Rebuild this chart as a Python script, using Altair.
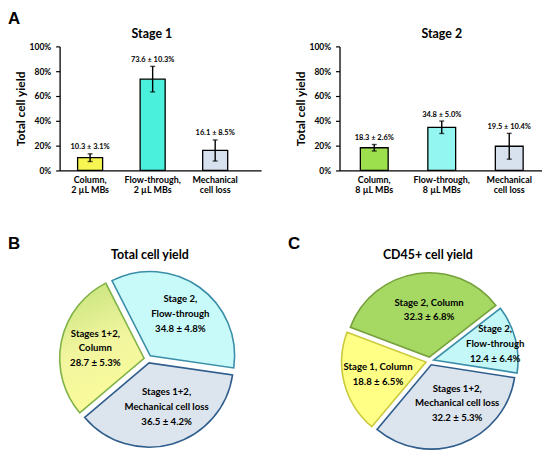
import math
import altair as alt
import pandas as pd

FONT = "Lato, sans-serif"
LETTER_FONT = "Liberation Sans, Arial, sans-serif"

# ---------------- data ----------------
stage1_labels = ["Column,|2 µL MBs", "Flow-through,|2 µL MBs", "Mechanical|cell loss"]
stage1_values = [10.3, 73.6, 16.1]
stage1_errors = [3.1, 10.3, 8.5]
stage1_colors = ["#f6f552", "#4af0dc", "#d8e2ef"]

stage2_labels = ["Column,|8 µL MBs", "Flow-through,|8 µL MBs", "Mechanical|cell loss"]
stage2_values = [18.3, 34.8, 19.5]
stage2_errors = [2.6, 5.0, 10.4]
stage2_colors = ["#9ce04e", "#93f6f0", "#d8e2ef"]

pieB_labels = ["Stage 2,\nFlow-through", "Stages 1+2,\nMechanical cell loss", "Stages 1+2,\nColumn"]
pieB_values = [34.8, 36.5, 28.7]
pieB_errors = [4.8, 4.2, 5.3]

pieC_labels = ["Stage 2, Column", "Stage 2,\nFlow-through", "Stages 1+2,\nMechanical cell loss", "Stage 1, Column"]
pieC_values = [32.3, 12.4, 32.2, 18.8]
pieC_errors = [6.8, 6.4, 5.3, 6.5]

# ---------------- styles ----------------
GRAD_YG = {"gradient": "linear", "x1": 0, "y1": 0, "x2": 0.25, "y2": 1,
           "stops": [{"offset": 0, "color": "#c3e27a"}, {"offset": 0.55, "color": "#f1f59e"},
                     {"offset": 1, "color": "#fbfb9c"}]}
pieB_fills = ["#c9fafa", "#dce4ee", GRAD_YG]
pieB_strokes = ["#3a8ea8", "#2f5d8c", "#7fb347"]
pieC_fills = ["#a6d864", "#c4f8f8", "#dce4ee", "#ffff86"]
pieC_strokes = ["#76a13c", "#3a8ea8", "#2f5d8c", "#c9c93a"]

PIE_R = 85
EXPLODE = 4
PIE_LINE_H = 15


def label_layer(text, x, y, size, font=FONT, align="center", baseline="alphabetic"):
    return alt.Chart(pd.DataFrame({"t": [text]})).mark_text(
        font=font, fontWeight="bold", fontSize=size, align=align, baseline=baseline,
        color="black").encode(text="t:N", x=alt.value(x), y=alt.value(y))


def bar_chart(labels, values, errors, colors, title, title_x, width, p_in, p_out, align, letter=None):
    df = pd.DataFrame({"cat": labels, "value": values, "err": errors})
    df["txt"] = [f"{v} ± {e}%" for v, e in zip(values, errors)]
    xsc = alt.Scale(paddingInner=p_in, paddingOuter=p_out, align=align)
    xax = alt.Axis(labelExpr="split(datum.label, '|')", ticks=False, domainColor="black",
                   domainWidth=1.3, labelFont=FONT, labelFontWeight="bold", labelFontSize=9,
                   labelColor="black", labelLineHeight=10.5, labelPadding=5, labelAngle=0)
    x = alt.X("cat:N", sort=None, scale=xsc, axis=xax, title=None)
    ysc = alt.Scale(domain=[0, 100])
    yax = alt.Axis(values=[0, 20, 40, 60, 80, 100], labelExpr="datum.value + '%'", grid=False,
                   tickSize=4, tickColor="black", tickWidth=1.2, domainColor="black", domainWidth=1.3,
                   labelFont=FONT, labelFontWeight="bold", labelFontSize=8.5, labelColor="black",
                   labelPadding=5, titleFont=FONT, titleFontSize=12, titleFontWeight="bold",
                   titleColor="black", titlePadding=2)
    ytitle = "Total cell yield"
    base = alt.Chart(df).transform_calculate(lo="datum.value - datum.err", hi="datum.value + datum.err")
    bars = base.mark_bar(stroke="black", strokeWidth=1.3).encode(
        x=x, y=alt.Y("value:Q", scale=ysc, axis=yax, title=ytitle),
        color=alt.Color("cat:N", scale=alt.Scale(domain=labels, range=colors), legend=None))
    rule = base.mark_rule(color="black", strokeWidth=1.4).encode(
        x=x, y=alt.Y("lo:Q", scale=ysc, axis=yax, title=ytitle), y2="hi:Q")
    cap_lo = base.mark_tick(color="black", thickness=1.4, size=5).encode(
        x=x, y=alt.Y("lo:Q", scale=ysc, axis=yax, title=ytitle))
    cap_hi = base.mark_tick(color="black", thickness=1.4, size=5).encode(
        x=x, y=alt.Y("hi:Q", scale=ysc, axis=yax, title=ytitle))
    txt = base.mark_text(font=FONT, fontWeight="bold", fontSize=7.5, baseline="alphabetic",
                         dy=-4.5, color="black").encode(
        x=x, y=alt.Y("hi:Q", scale=ysc, axis=yax, title=ytitle), text="txt:N")
    layers = [bars, rule, cap_lo, cap_hi, txt, label_layer(title, title_x, -8, 12.5)]
    if letter:
        layers.append(label_layer(letter, -52, -36, 17, LETTER_FONT, "left", "top"))
    return alt.layer(*layers).properties(width=width, height=125)


def pie_chart(labels, values, errors, fills, strokes, a0_deg, cx, cy, title, title_x,
              letter, letter_x, text_r, nudges):
    n = len(labels)
    df = pd.DataFrame({"name": labels, "value": values, "err": errors, "idx": list(range(n))})
    df["txt"] = [f"{l}\n{v} ± {e}%" for l, v, e in zip(labels, values, errors)]
    a0 = math.radians(a0_deg)
    tsc = alt.Scale(domain=[0, 1], range=[a0, a0 + 2 * math.pi])
    base = (alt.Chart(df)
            .transform_joinaggregate(total="sum(value)")
            .transform_window(cum="sum(value)", sort=[alt.SortField("idx", order="ascending")],
                              frame=[None, 0])
            .transform_calculate(start="(datum.cum - datum.value) / datum.total",
                                 end="datum.cum / datum.total",
                                 mid="(datum.cum - datum.value / 2) / datum.total"))
    total = float(sum(values))
    cum = 0.0
    arcs, texts = [], []
    for i in range(n):
        mid = (cum + values[i] / 2) / total
        cum += values[i]
        ang = a0 + 2 * math.pi * mid
        ex, ey = EXPLODE * math.sin(ang), -EXPLODE * math.cos(ang)
        sl = base.transform_filter(alt.datum.idx == i)
        arcs.append(sl.mark_arc(radius=PIE_R, x=cx + ex, y=cy + ey, fill=fills[i],
                                stroke=strokes[i], strokeWidth=1.6).encode(
            theta=alt.Theta("start:Q", scale=tsc, stack=None), theta2="end:Q"))
        dx, dy = nudges[i]
        nlines = labels[i].count("\n") + 2
        block_dy = -(nlines - 1) * PIE_LINE_H / 2
        texts.append(sl.mark_text(radius=text_r[i], x=cx + ex + dx, y=cy + ey + dy + block_dy,
                                  font=FONT, fontWeight="bold", fontSize=9.7, lineBreak="\n",
                                  lineHeight=PIE_LINE_H, align="center", baseline="middle",
                                  color="black").encode(
            theta=alt.Theta("mid:Q", scale=tsc, stack=None), text="txt:N"))
    return alt.layer(*arcs, *texts,
                     label_layer(title, title_x, -5, 12.5),
                     label_layer(letter, letter_x, -28, 17, LETTER_FONT, "left", "top")
                     ).properties(width=180, height=176)


bar1 = bar_chart(stage1_labels, stage1_values, stage1_errors, stage1_colors, "Stage 1", 93,
                 203, 0.6, 0.411, 0.35, letter="A")
bar2 = bar_chart(stage2_labels, stage2_values, stage2_errors, stage2_colors, "Stage 2", 103,
                 204, 0.588, 0.294, 0.525)

pieB = pie_chart(pieB_labels, pieB_values, pieB_errors, pieB_fills, pieB_strokes, 333.0, 89, 96,
                 "Total cell yield", 91, "B", -52, [52, 46, 50], [(0, 0), (5, 0), (0, 0)])
pieC = pie_chart(pieC_labels, pieC_values, pieC_errors, pieC_fills, pieC_strokes, 290.7, 91, 98,
                 "CD45+ cell yield", 89, "C", -52, [48, 64, 46, 50],
                 [(7, 0), (0, 0), (10, -4), (0, 0)])

chart = (alt.concat(bar1, bar2, pieB, pieC, columns=2,
                    spacing=alt.RowColnumber(row=94, column=79), bounds="flush")
         .resolve_scale(color="independent", theta="independent")
         .properties(padding=0)
         .configure_view(stroke=None))

chart.save("out.html", embed_options={"renderer": "svg", "actions": False})
